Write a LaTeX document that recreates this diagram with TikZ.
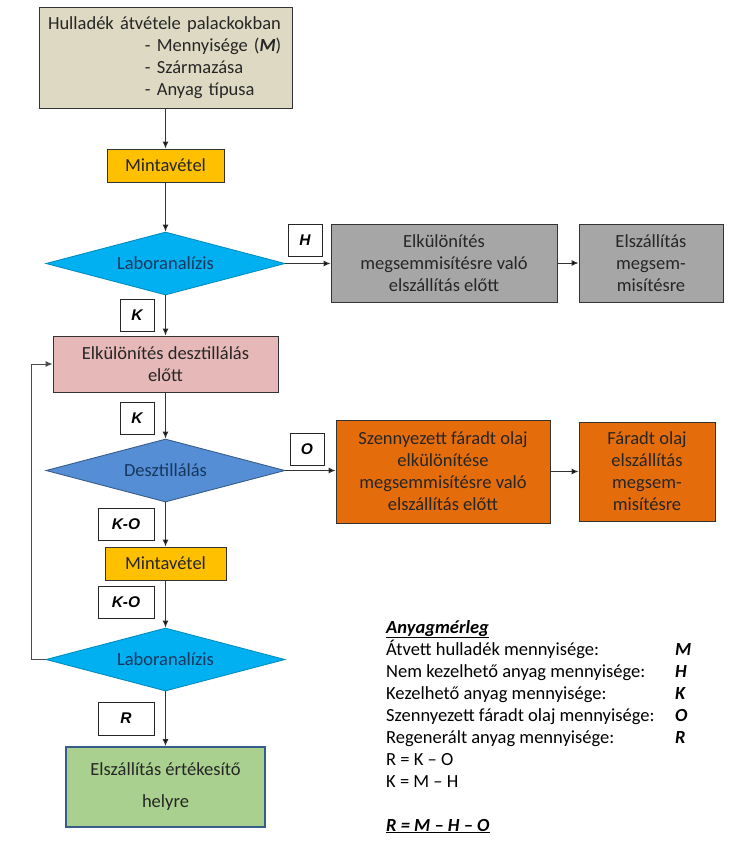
\documentclass[tikz,border=0pt]{standalone}
\usepackage{fontspec}
\setmainfont{Carlito}
\newfontfamily\arialf{Liberation Sans}
\usetikzlibrary{shapes.geometric, arrows.meta}

\definecolor{tanbg}{HTML}{DDD9C3}
\definecolor{mintc}{HTML}{FFC000}
\definecolor{labc}{HTML}{00B0F0}
\definecolor{grayc}{HTML}{A6A6A6}
\definecolor{pinkc}{HTML}{E6B9B8}
\definecolor{distc}{HTML}{558ED5}
\definecolor{oilc}{HTML}{E46C0A}
\definecolor{salec}{HTML}{A9D08E}
\definecolor{navy}{HTML}{17375E}
\definecolor{edgec}{HTML}{385D8A}
\definecolor{inkc}{HTML}{262626}

\begin{document}
\begin{tikzpicture}[x=1pt,y=-1pt,>={Latex[length=7pt,width=6pt]},
   every node/.style={font={\fontsize{18.5}{22}\selectfont},text=inkc},
   box/.style={draw=black!80,line width=0.9pt,inner sep=0pt,align=center},
   decision/.style={diamond,draw,line width=0.9pt,inner sep=0pt,aspect=3.8,text=navy},
   tag/.style={draw=black!85,line width=0.8pt,fill=white,inner sep=0pt,
      font={\arialf\bfseries\itshape\fontsize{15.5}{18}\selectfont},text=black}]

   \useasboundingbox (0,0) rectangle (733,847);

   % main column
   \node[box,fill=tanbg,minimum width=253pt,minimum height=101pt,
         inner xsep=4pt,text width=245pt,align=left] (rec) at (165.5,57.5)
      {\hspace*{5pt}Hulladék átvétele palackokban\\
       \hspace*{102pt}- Mennyisége (\textbf{\textit{M}})\\
       \hspace*{102pt}- Származása\\
       \hspace*{102pt}- Anyag típusa};
   \node[box,fill=mintc,minimum width=117pt,minimum height=33pt] (mt_1) at (165.5,165.5) {Mintavétel};
   \node[decision,fill=labc,draw=labc!80!black,minimum width=239pt,minimum height=63pt] (lab_1) at (165.5,263.5) {Laboranalízis};
   \node[box,fill=pinkc,minimum width=225pt,minimum height=56pt] (pre) at (165.5,364) {Elkülönítés desztillálás\\előtt};
   \node[decision,fill=distc,draw=edgec,minimum width=239pt,minimum height=63pt] (dist) at (165.5,470.5) {Desztillálás};
   \node[box,fill=mintc,minimum width=121pt,minimum height=33pt] (mt_2) at (165.5,563.5) {Mintavétel};
   \node[decision,fill=labc,draw=labc!80!black,minimum width=239pt,minimum height=63pt] (lab_2) at (165.5,659.5) {Laboranalízis};
   \node[box,fill=salec,draw=edgec,line width=1.8pt,minimum width=199pt,minimum height=80pt] (sale) at (165.5,787)
      {Elszállítás értékesítő\\[10pt]helyre};

   % side branches
   \node[box,fill=grayc,minimum width=226pt,minimum height=78pt] (sep_1) at (444,263) {Elkülönítés\\megsemmisítésre való\\elszállítás előtt};
   \node[box,fill=grayc,minimum width=144pt,minimum height=78pt] (del_1) at (651,263) {Elszállítás\\megsem-\\misítésre};
   \node[box,fill=oilc,minimum width=214pt,minimum height=103pt] (oil_1) at (443,471.5)
      {Szennyezett fáradt olaj\\elkülönítése\\megsemmisítésre való\\elszállítás előtt};
   \node[box,fill=oilc,minimum width=136pt,minimum height=99pt] (oil_2) at (647,471.5)
      {Fáradt olaj\\elszállítás\\megsem-\\misítésre};

   % flow tags
   \node[tag,minimum width=34pt,minimum height=32pt] (t_H) at (305,240) {H};
   \node[tag,minimum width=34pt,minimum height=32pt] (t_K1) at (137,315) {K};
   \node[tag,minimum width=34pt,minimum height=32pt] (t_K2) at (137,418) {K};
   \node[tag,minimum width=34pt,minimum height=32pt] (t_O) at (307,449) {O};
   \node[tag,minimum width=56pt,minimum height=32pt] (t_KO1) at (126,524) {K-O};
   \node[tag,minimum width=56pt,minimum height=32pt] (t_KO2) at (126,602) {K-O};
   \node[tag,minimum width=56pt,minimum height=33pt] (t_R) at (126,718.5) {R};

   \path[->,draw=black!80,line width=1pt]
   (rec) edge (mt_1)
   (mt_1) edge (lab_1)
   (lab_1) edge (pre)
         edge (lab_1.east -| sep_1.west)
   (sep_1) edge (del_1)
   (pre) edge (dist)
   (dist) edge (mt_2)
         edge (dist.east -| oil_1.west)
   (oil_1) edge (oil_2)
   (mt_2) edge (lab_2)
   (lab_2) edge (sale);

   \draw[->,draw=black!70,line width=1pt] (lab_2.west) -- ++(-14,0) |- (pre.west);

   % balance
   \node[anchor=base west,inner sep=0pt,text=black] (bal) at (386,633)
      {\begin{tabular}[t]{@{}p{289pt}@{}l@{}}
       \underline{\textbf{\textit{Anyagmérleg}}} & \\
       Átvett hulladék mennyisége: & \textbf{\textit{M}}\\
       Nem kezelhető anyag mennyisége: & \textbf{\textit{H}}\\
       Kezelhető anyag mennyisége: & \textbf{\textit{K}}\\
       Szennyezett fáradt olaj mennyisége: & \textbf{\textit{O}}\\
       Regenerált anyag mennyisége: & \textbf{\textit{R}}\\
       R = K – O & \\
       K = M – H & \\
       & \\
       \underline{\textbf{\textit{R = M – H – O}}} & \\
       \end{tabular}};

\end{tikzpicture}
\end{document}
